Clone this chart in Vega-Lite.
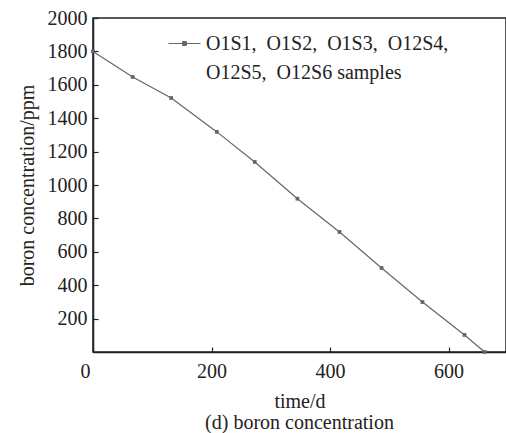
{
  "$schema": "https://vega.github.io/schema/vega-lite/v6.json",
  "width": 413,
  "height": 334,
  "autosize": {"type": "none"},
  "padding": {"left": 93, "top": 18, "right": 0, "bottom": 81},
  "background": "white",
  "config": {
    "font": "Times New Roman, Liberation Serif, serif",
    "view": {"stroke": "#222", "strokeWidth": 1.5},
    "axis": {"labelFont": "Times New Roman, Liberation Serif, serif", "titleFont": "Times New Roman, Liberation Serif, serif"},
    "legend": {"labelFont": "Times New Roman, Liberation Serif, serif"},
    "title": {"font": "Times New Roman, Liberation Serif, serif"}
  },
  "title": {
    "text": "(d) boron concentration",
    "orient": "bottom",
    "anchor": "middle",
    "fontSize": 20,
    "fontWeight": "normal",
    "color": "#222",
    "offset": 2
  },
  "data": {
    "values": [
      {"t": 0, "b": 1800, "s": "all"},
      {"t": 67, "b": 1647, "s": "all"},
      {"t": 132, "b": 1521, "s": "all"},
      {"t": 209, "b": 1318, "s": "all"},
      {"t": 273, "b": 1138, "s": "all"},
      {"t": 345, "b": 918, "s": "all"},
      {"t": 416, "b": 719, "s": "all"},
      {"t": 487, "b": 503, "s": "all"},
      {"t": 556, "b": 299, "s": "all"},
      {"t": 627, "b": 102, "s": "all"},
      {"t": 661, "b": 0, "s": "all"}
    ]
  },
  "mark": {"type": "line", "strokeWidth": 1.2, "point": {"shape": "square", "size": 14, "filled": true, "color": "#666"}},
  "encoding": {
    "x": {
      "field": "t", "type": "quantitative",
      "scale": {"domain": [0, 697], "nice": false},
      "axis": {
        "values": [0, 200, 400, 600],
        "format": "d",
        "title": "time/d",
        "grid": false,
        "domainColor": "#222", "domainWidth": 1.5,
        "tickColor": "#222", "tickSize": -5, "tickWidth": 1.2,
        "labelFontSize": 20, "labelColor": "#222", "labelPadding": 14,
        "labelOffset": {"condition": {"test": "datum.value == 0", "value": -13}, "value": 0},
        "titleFontSize": 20, "titleFontWeight": "normal", "titleColor": "#222", "titlePadding": 10
      }
    },
    "y": {
      "field": "b", "type": "quantitative",
      "scale": {"domain": [0, 2000], "nice": false},
      "axis": {
        "values": [200, 400, 600, 800, 1000, 1200, 1400, 1600, 1800, 2000],
        "format": "d",
        "title": "boron concentration/ppm",
        "grid": false,
        "domainColor": "#222", "domainWidth": 1.5,
        "tickColor": "#222", "tickSize": -5, "tickWidth": 1.2,
        "labelFontSize": 20, "labelColor": "#222", "labelPadding": 11,
        "titleFontSize": 20, "titleFontWeight": "normal", "titleColor": "#222", "titlePadding": 10
      }
    },
    "color": {
      "field": "s", "type": "nominal",
      "scale": {"range": ["#666"]},
      "legend": {
        "title": null,
        "orient": "none",
        "legendX": 75,
        "legendY": 9,
        "labelExpr": "['O1S1,\u00a0\u00a0O1S2,\u00a0\u00a0O1S3,\u00a0\u00a0O12S4,', 'O12S5,\u00a0\u00a0O12S6 samples']",
        "labelFontSize": 20,
        "labelColor": "#222",
        "labelLimit": 400,
        "labelBaseline": "middle",
        "labelOffset": 5,
        "symbolType": "M-1,0H1M-0.12,-0.12H0.12V0.12H-0.12Z",
        "symbolSize": 1024,
        "symbolStrokeWidth": 1,
        "symbolFillColor": "#666",
        "symbolStrokeColor": "#666",
        "encode": {"labels": {"update": {"lineHeight": {"value": 29}}}}
      }
    }
  }
}
